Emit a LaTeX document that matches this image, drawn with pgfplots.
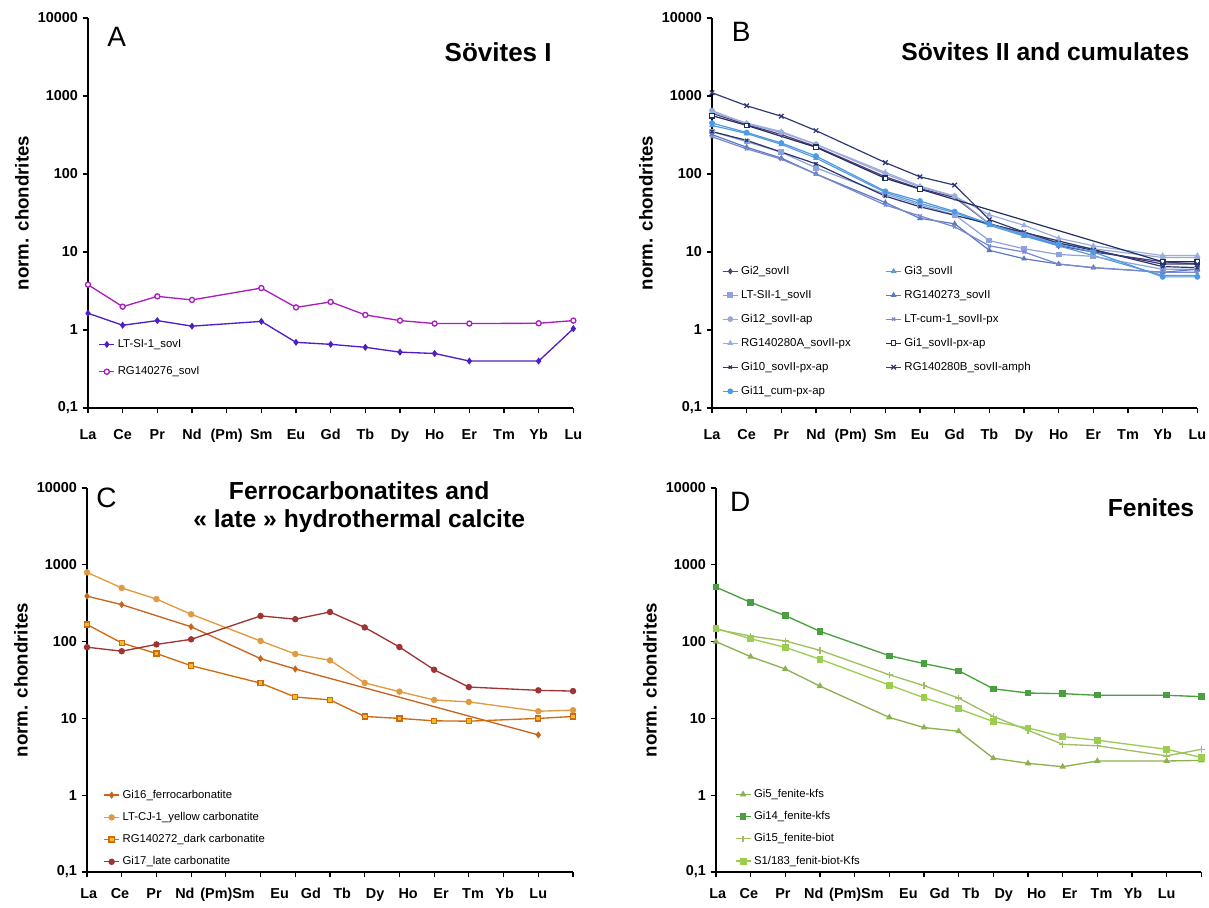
\documentclass[border=0pt]{standalone}
\usepackage{fontspec}
\setmainfont{Liberation Sans}
\usepackage{pgfplots}
\pgfplotsset{compat=1.18}

\definecolor{cSIa}{RGB}{80,30,200}
\definecolor{cSIb}{RGB}{170,30,190}
\definecolor{cGiTwo}{RGB}{90,60,120}
\definecolor{cGiThree}{RGB}{91,155,213}
\definecolor{cLTSII}{RGB}{142,163,222}
\definecolor{cRGa}{RGB}{92,120,200}
\definecolor{cGiTwelve}{RGB}{151,168,216}
\definecolor{cLTcum}{RGB}{122,136,204}
\definecolor{cRGA}{RGB}{154,174,224}
\definecolor{cGiOne}{RGB}{31,47,95}
\definecolor{cGiTen}{RGB}{43,53,102}
\definecolor{cRGB}{RGB}{46,58,120}
\definecolor{cGiEleven}{RGB}{74,154,232}
\definecolor{cFerro}{RGB}{200,100,30}
\definecolor{cYellow}{RGB}{224,154,64}
\definecolor{cDark}{RGB}{208,106,16}
\definecolor{cDarkFill}{RGB}{240,192,32}
\definecolor{cLate}{RGB}{158,52,52}
\definecolor{cFenA}{RGB}{141,176,80}
\definecolor{cFenB}{RGB}{74,160,64}
\definecolor{cFenC}{RGB}{160,191,96}
\definecolor{cFenD}{RGB}{154,205,80}

\pgfplotsset{
  every axis/.append style={
    scale only axis, width=364pt, height=292.5pt,
    xmin=0, xmax=14, ymin=0.1, ymax=10000,
    axis x line*=bottom, axis y line*=left,
    axis line style={line width=1.1pt,-},
    tick style={line width=0.8pt,black},
    tick align=outside, major tick length=4pt,
    xtick={0,...,14},
    ytick={0.1,1,10,100,1000,10000},
    yticklabels={{0,1},1,10,100,1000,10000},
    yminorticks=false,
    ticklabel style={font=\bfseries\fontsize{10.8}{13}\selectfont},
    xticklabel style={yshift=-8pt, text height=8pt, text depth=0pt},
    ylabel={norm. chondrites},
    ylabel style={font=\bfseries\fontsize{14}{16}\selectfont},
    legend style={draw=none, fill=none, anchor=north west,
      font=\fontsize{8.5}{10}\selectfont, row sep=6pt},
    legend cell align=left,
    legend image code/.code={\draw[mark repeat=2,mark phase=2]
      plot coordinates {(0cm,0cm)(0.2cm,0cm)(0.4cm,0cm)};},
    clip=false,
  },
  every axis plot/.append style={line width=1pt, mark size=1.9pt},
}

\begin{document}
\begin{tikzpicture}
\path[use as bounding box] (-66pt,-374.25pt) rectangle (840.75pt,306pt);

% ---------- A ----------
\begin{axis}[ymode=log, at={(0pt,0pt)}, anchor=south west,
  xticklabels={La,Ce,Pr,Nd,(Pm),Sm,Eu,Gd,Tb,Dy,Ho,Er,Tm,Yb,Lu},
  legend style={at={(axis description cs:0.013,0.19)}, row sep=9pt}]
\addplot[color=cSIa, mark=diamond*] coordinates {
  (0,1.64)(1,1.15)(2,1.32)(3,1.12)(5,1.29)(6,0.695)(7,0.655)(8,0.60)
  (9,0.52)(10,0.50)(11,0.40)(13,0.40)(14,1.04)};
\addplot[color=cSIb, mark=*, mark options={fill=white}] coordinates {
  (0,3.81)(1,1.99)(2,2.70)(3,2.43)(5,3.45)(6,1.95)(7,2.29)(8,1.56)
  (9,1.32)(10,1.21)(11,1.21)(13,1.22)(14,1.32)};
\legend{LT-SI-1\_sovI,RG140276\_sovI}
\node[font=\fontsize{21}{21}\selectfont] at (axis description cs:0.059,0.951) {A};
\node[anchor=east, font=\bfseries\fontsize{19.5}{22}\selectfont] at (axis description cs:0.965,0.913) {Sövites I};
\end{axis}

% ---------- B ----------
\begin{axis}[ymode=log, at={(468pt,0pt)}, anchor=south west,
  xticklabels={La,Ce,Pr,Nd,(Pm),Sm,Eu,Gd,Tb,Dy,Ho,Er,Tm,Yb,Lu},
  every axis plot/.append style={line width=0.9pt, mark size=1.7pt},
  legend columns=2,
  legend style={at={(axis description cs:0.012,0.378)},
    font=\fontsize{8.6}{10}\selectfont, row sep=6.3pt,
    /tikz/every even column/.append style={column sep=24pt}}]
\addplot[color=cGiTwo, mark=diamond*] coordinates {
  (0,600)(1,430)(2,320)(3,225)(5,92)(6,65)(7,50)(8,23)(9,17)(10,12)(11,10)(13,7.5)(14,7)};
\addplot[color=cGiThree, mark=triangle*] coordinates {
  (0,420)(1,330)(2,240)(3,160)(5,58)(6,42)(7,32)(8,22)(9,16)(10,12)(11,9)(13,5)(14,5)};
\addplot[color=cLTSII, mark=square*] coordinates {
  (0,350)(1,260)(2,190)(3,120)(5,55)(6,40)(7,30)(8,14)(9,11)(10,9.3)(11,8.8)(13,6)(14,6)};
\addplot[color=cRGa, mark=triangle*] coordinates {
  (0,320)(1,220)(2,160)(3,100)(5,43)(6,27)(7,23)(8,10.5)(9,8.2)(10,7)(11,6.3)(13,5.5)(14,6)};
\addplot[color=cGiTwelve, mark=*] coordinates {
  (0,650)(1,440)(2,340)(3,240)(5,100)(6,68)(7,52)(8,23)(9,17)(10,13)(11,11)(13,8.5)(14,8.5)};
\addplot[color=cLTcum, mark=x] coordinates {
  (0,300)(1,210)(2,155)(3,100)(5,40)(6,29)(7,21)(8,12)(9,10)(10,7)(11,6.3)(13,5.5)(14,5.5)};
\addplot[color=cRGA, mark=triangle*] coordinates {
  (0,620)(1,450)(2,350)(3,240)(5,105)(6,70)(7,52)(8,30)(9,22)(10,15)(11,12)(13,9)(14,9)};
\addplot[color=cGiOne, mark=square*, mark options={fill=white}] coordinates {
  (0,560)(1,420)(3,220)(5,88)(6,64)(13,7.5)(14,7.5)};
\addplot[color=cGiTen, mark=x] coordinates {
  (0,350)(1,270)(3,135)(5,52)(6,38)(13,6.5)(14,6.3)};
\addplot[color=cRGB, mark=x, mark size=2.4pt] coordinates {
  (0,1100)(1,750)(2,550)(3,360)(5,140)(6,92)(7,72)(8,26)(9,18)(10,13)(11,10.5)(13,7)(14,7)};
\addplot[color=cGiEleven, mark=*] coordinates {
  (0,450)(1,340)(2,250)(3,170)(5,60)(6,45)(7,33)(8,23)(9,16.5)(10,12.5)(11,10)(13,4.8)(14,4.8)};
\legend{Gi2\_sovII,Gi3\_sovII,LT-SII-1\_sovII,RG140273\_sovII,Gi12\_sovII-ap,
  LT-cum-1\_sovII-px,RG140280A\_sovII-px,Gi1\_sovII-px-ap,Gi10\_sovII-px-ap,
  RG140280B\_sovII-amph,Gi11\_cum-px-ap}
\node[font=\fontsize{21}{21}\selectfont] at (axis description cs:0.06,0.965) {B};
\node[anchor=east, font=\bfseries\fontsize{18.5}{22}\selectfont] at (axis description cs:0.993,0.913) {Sövites II and cumulates};
\end{axis}

% ---------- C ----------
\begin{axis}[ymode=log, at={(-0.75pt,-348pt)}, anchor=south west, height=288pt, width=364.5pt,
  xticklabels={},
  extra x ticks={0.05,0.95,1.93,2.82,4.05,5.55,6.45,7.35,8.3,9.25,10.2,11.12,12.03,13.0},
  extra x tick labels={La,Ce,Pr,Nd,(Pm)Sm,Eu,Gd,Tb,Dy,Ho,Er,Tm,Yb,Lu},
  extra x tick style={major tick length=0pt},
  legend style={at={(axis description cs:0.025,0.228)}, row sep=5pt}]
\addplot[color=cFerro, mark=diamond*] coordinates {
  (0,391)(1,303)(3,156)(5,60)(6,44)(13,6.1)};
\addplot[color=cYellow, mark=*] coordinates {
  (0,797)(1,500)(2,358)(3,227)(5,102)(6,69)(7,57)(8,29)(9,22.3)(10,17.4)(11,16.4)(13,12.4)(14,12.8)};
\addplot[color=cDark, mark=square*, mark options={fill=cDarkFill}] coordinates {
  (0,167)(1,96)(2,70)(3,48.6)(5,28.8)(6,19)(7,17.4)(8,10.6)(9,10.0)(10,9.3)(11,9.2)(13,10)(14,10.6)};
\addplot[color=cLate, mark=*] coordinates {
  (0,84.6)(1,75)(2,92)(3,107)(5,216)(6,196)(7,243)(8,153)(9,85)(10,43)(11,25.6)(13,23.2)(14,22.7)};
\legend{Gi16\_ferrocarbonatite,LT-CJ-1\_yellow carbonatite,RG140272\_dark carbonatite,Gi17\_late carbonatite}
\node[font=\fontsize{21}{21}\selectfont] at (axis description cs:0.04,0.975) {C};
\node[align=center, font=\bfseries\fontsize{18.5}{21}\selectfont] at (axis description cs:0.56,0.95) {Ferrocarbonatites and\\« late » hydrothermal calcite};
\end{axis}

% ---------- D ----------
\begin{axis}[ymode=log, at={(471pt,-348pt)}, anchor=south west, height=288pt, width=364pt,
  xticklabels={},
  extra x ticks={0.05,0.95,1.93,2.82,4.05,5.55,6.45,7.35,8.3,9.25,10.2,11.12,12.03,13.0},
  extra x tick labels={La,Ce,Pr,Nd,(Pm)Sm,Eu,Gd,Tb,Dy,Ho,Er,Tm,Yb,Lu},
  extra x tick style={major tick length=0pt},
  legend style={at={(axis description cs:0.03,0.23)}, row sep=5pt}]
\addplot[color=cFenA, mark=triangle*] coordinates {
  (0,100)(1,63.6)(2,44)(3,26.3)(5,10.3)(6,7.6)(7,6.8)(8,3.03)(9,2.6)(10,2.35)(11,2.79)(13,2.79)(14,2.84)};
\addplot[color=cFenB, mark=square*] coordinates {
  (0,512)(1,324)(2,218)(3,136)(5,65.5)(6,51.7)(7,41.8)(8,24.3)(9,21.4)(10,21)(11,20)(13,20)(14,19.2)};
\addplot[color=cFenC, mark=+, mark size=2.4pt] coordinates {
  (0,145)(1,118)(2,102)(3,77)(5,37)(6,26.7)(7,18.4)(8,10.6)(9,7)(10,4.6)(11,4.4)(13,3.25)(14,3.96)};
\addplot[color=cFenD, mark=square*, mark size=2.1pt] coordinates {
  (0,148)(1,109)(2,84)(3,59)(5,27.2)(6,18.6)(7,13.3)(8,9.1)(9,7.5)(10,5.8)(11,5.2)(13,3.96)(14,3.1)};
\legend{Gi5\_fenite-kfs,Gi14\_fenite-kfs,Gi15\_fenite-biot,S1/183\_fenit-biot-Kfs}
\node[font=\fontsize{21}{21}\selectfont] at (axis description cs:0.05,0.963) {D};
\node[anchor=east, font=\bfseries\fontsize{18.5}{22}\selectfont] at (axis description cs:0.995,0.948) {Fenites};
\end{axis}
\end{tikzpicture}
\end{document}
